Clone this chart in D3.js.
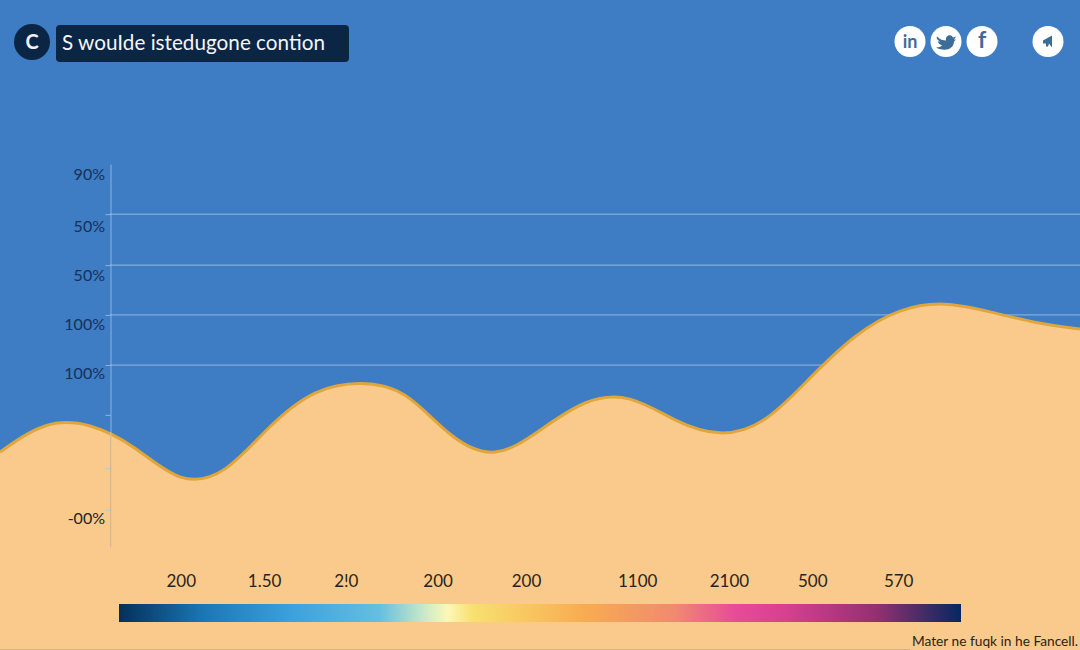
<!doctype html>
<html>
  <head>
    <meta charset="utf-8">
    <title>S wouIde istedugone contion</title>
    <script src="https://cdnjs.cloudflare.com/ajax/libs/d3/7.8.5/d3.min.js"></script>
    <style>
      html, body { margin: 0; padding: 0; background: #3e7cc3; overflow: hidden; }
      svg { display: block; }
      text { font-family: Lato, "Open Sans", sans-serif; }
      .y-axis .domain { stroke: #a9c8ea; stroke-opacity: .75; }
      .y-axis .tick line { stroke: #a9c8ea; stroke-opacity: .75; }
    </style>
  </head>
  <body>
    <div id="chart"></div>
    <script>
      // data
      const titleText = 'S wouIde istedugone contion';
      const footerText = 'Mater ne fuqk in he Fancell.';

      // curve height, evenly spaced left to right
      const curveValues = [24.8, 31.6, 31.6, 25.8, 18.3, 20.4, 31.4, 40.2, 42.7, 39.6, 29.5, 24.8, 30.5,
        37.6, 38.6, 33.2, 29.8, 33.4, 44.1, 54.9, 61.6, 63.4, 61.4, 58.7, 56.9];

      const gridValues = [86.9, 73.6, 60.6, 47.5];
      const tickValues = [86.9, 73.6, 60.6, 47.5, 34.5, 20.6, 9.7];

      const yLabels = ['90%', '50%', '50%', '100%', '100%', '-00%'];
      const yLabelValues = [97.4, 83.8, 71.0, 58.2, 45.4, 7.6];

      const legendLabels = ['200', '1.50', '2!0', '200', '200', '1100', '2100', '500', '570'];
      const legendLabelValues = [0.074, 0.173, 0.27, 0.379, 0.484, 0.616, 0.725, 0.824, 0.926];

      const legendStops = [0, 0.1, 0.2, 0.31, 0.36, 0.39, 0.42, 0.55, 0.66, 0.73, 0.79, 0.9, 1];
      const legendColors = ['#03305a', '#1c76b4', '#3a9fdc', '#66bfe0', '#c4e8c8', '#fdf8b8', '#f8e070',
        '#f8ad50', '#f08a70', '#e84c98', '#d84090', '#933070', '#042860'];

      const width = 1080;
      const height = 650;
      const blue = '#3e7cc3';
      const sand = '#f9ca8c';
      const navy = '#0b2545';

      const svg = d3.select('#chart').append('svg')
        .attr('width', width)
        .attr('height', height);

      svg.append('rect').attr('width', width).attr('height', height).attr('fill', blue);

      const x = d3.scalePoint().domain(d3.range(curveValues.length)).range([0, width]);
      const y = d3.scaleLinear().domain([0, 100]).range([547, 164]);

      // grid sits under the area
      svg.selectAll('.grid')
        .data(gridValues)
        .join('line')
        .attr('class', 'grid')
        .attr('x1', 110)
        .attr('x2', width)
        .attr('y1', d => y(d))
        .attr('y2', d => y(d))
        .attr('stroke', '#a9c8ea')
        .attr('stroke-opacity', 0.8);

      const area = d3.area()
        .x((d, i) => x(i))
        .y0(height)
        .y1(d => y(d))
        .curve(d3.curveNatural);

      const line = d3.line()
        .x((d, i) => x(i))
        .y(d => y(d))
        .curve(d3.curveNatural);

      svg.append('path').datum(curveValues).attr('d', area).attr('fill', sand);
      svg.append('path').datum(curveValues).attr('d', line)
        .attr('fill', 'none')
        .attr('stroke', '#e0a63c')
        .attr('stroke-width', 3);

      // y axis
      const axis = d3.axisLeft(y).tickValues(tickValues).tickSize(5).tickSizeOuter(0).tickFormat('');
      const axisG = svg.append('g').attr('class', 'y-axis').attr('transform', 'translate(110.5,0)').call(axis);
      axisG.selectAll('.tick').filter(d => d < 30).select('line').attr('stroke', '#c9a77c').attr('stroke-opacity', 1);

      // lower part of the axis fades into the sand colour
      svg.append('line')
        .attr('x1', 110.5).attr('x2', 110.5)
        .attr('y1', y(30)).attr('y2', y(0))
        .attr('stroke', '#d9b88c');

      svg.selectAll('.y-label')
        .data(yLabels)
        .join('text')
        .attr('class', 'y-label')
        .attr('x', 105)
        .attr('y', (d, i) => y(yLabelValues[i]))
        .attr('dy', '0.38em')
        .attr('text-anchor', 'end')
        .attr('font-size', 16)
        .attr('fill', d => d === '-00%' ? '#222222' : '#14315a')
        .text(d => d);

      // header
      svg.append('circle').attr('cx', 32).attr('cy', 42).attr('r', 18).attr('fill', navy);
      svg.append('text').attr('x', 32).attr('y', 49).attr('text-anchor', 'middle')
        .attr('font-size', 20).attr('font-weight', 700).attr('fill', '#eef2f6').text('C');
      svg.append('rect').attr('x', 56).attr('y', 25).attr('width', 293).attr('height', 37).attr('rx', 4).attr('fill', navy);
      svg.append('text').attr('x', 62).attr('y', 50).attr('font-size', 22)
        .attr('textLength', 263).attr('lengthAdjust', 'spacingAndGlyphs')
        .attr('fill', '#f4f6f8').text(titleText);

      // social buttons
      const iconInk = '#3d6c99';
      const socials = [
        { cx: 910, glyph: 'in' },
        { cx: 946, path: 'M-9,-5 C-6,-2 -3,-1 0,-1 C-1,-6 5,-8 7,-4 L10,-5 L8,-2 L10,-2 L8,0 C8,6 2,9 -3,8 C-6,8 -8,7 -10,6 C-7,6 -5,5 -4,4 C-7,3 -8,1 -8,0 L-6,0 C-9,-2 -10,-3 -9,-5 Z' },
        { cx: 982, glyph: 'f' },
        { cx: 1048, path: 'M-5,-1 L4,-6 L4,6 L1,2 L0,5 L-2,5 L-2,2 L-5,2 Z' }
      ];
      const buttons = svg.selectAll('.social').data(socials).join('g')
        .attr('class', 'social')
        .attr('transform', d => `translate(${d.cx},41.5)`);
      buttons.append('circle').attr('r', 15.5).attr('fill', '#ffffff');
      buttons.filter(d => d.glyph).append('text')
        .attr('y', 6)
        .attr('text-anchor', 'middle')
        .attr('font-size', d => d.glyph === 'f' ? 23 : 18)
        .attr('font-weight', 700)
        .attr('fill', iconInk)
        .text(d => d.glyph);
      buttons.filter(d => d.path).append('path').attr('d', d => d.path).attr('fill', iconInk);

      // colour bar
      const legendX = d3.scaleLinear().domain([0, 1]).range([119, 961]);
      const grad = svg.append('defs').append('linearGradient').attr('id', 'legend-grad');
      grad.selectAll('stop')
        .data(legendStops)
        .join('stop')
        .attr('offset', d => d)
        .attr('stop-color', (d, i) => legendColors[i]);

      svg.append('rect')
        .attr('x', legendX(0))
        .attr('y', 604)
        .attr('width', legendX(1) - legendX(0))
        .attr('height', 18)
        .attr('fill', 'url(#legend-grad)');

      svg.selectAll('.legend-label')
        .data(legendLabels)
        .join('text')
        .attr('class', 'legend-label')
        .attr('x', (d, i) => legendX(legendLabelValues[i]))
        .attr('y', 587)
        .attr('text-anchor', 'middle')
        .attr('font-size', 17)
        .attr('fill', '#2a2418')
        .text(d => d);

      // footer
      svg.append('line').attr('x1', 0).attr('x2', 910).attr('y1', 649.5).attr('y2', 649.5).attr('stroke', '#d9b283');
      svg.append('text').attr('x', 912).attr('y', 646).attr('font-size', 13)
        .attr('textLength', 166).attr('lengthAdjust', 'spacingAndGlyphs')
        .attr('fill', '#2a2418').text(footerText);
    </script>
  </body>
</html>
